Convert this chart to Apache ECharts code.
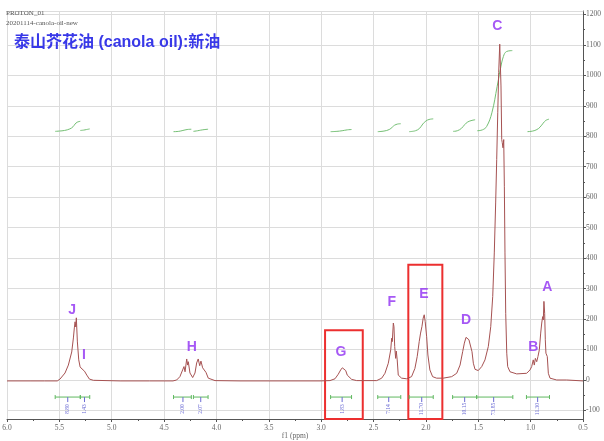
<!DOCTYPE html>
<html>
<head>
<meta charset="utf-8">
<script src="https://cdn.jsdelivr.net/npm/echarts@6/dist/echarts.min.js"></script>
<style>
html, body { margin: 0; padding: 0; background: #fff; }
#chart { width: 604px; height: 441px; }
</style>
</head>
<body>
<div id="chart"></div>
<script>
// 1H NMR spectrum of canola oil: chemical shift (ppm) and intensity
const shiftPpm = [
  6.00, 5.78, 5.64, 5.52, 5.494, 5.446, 5.414, 5.382, 5.366, 5.357, 5.350, 5.343, 5.338, 5.328, 5.315, 5.302,
  5.283, 5.275, 5.268, 5.260, 5.254, 5.246, 5.238, 5.213, 5.175, 4.92, 4.64, 4.415,
  4.380, 4.349, 4.323, 4.316, 4.310, 4.300, 4.284, 4.275, 4.269, 4.253, 4.227, 4.205, 4.189, 4.174, 4.160,
  4.148, 4.132, 4.117, 4.100, 4.078, 4.014, 3.775, 3.393, 3.011, 2.916,
  2.868, 2.837, 2.814, 2.798, 2.782, 2.766, 2.751, 2.734, 2.709, 2.661, 2.470,
  2.422, 2.391, 2.359, 2.336, 2.327, 2.321, 2.311, 2.305, 2.298, 2.289, 2.283, 2.274, 2.264, 2.232, 2.184,
  2.137, 2.105, 2.083, 2.064, 2.051, 2.038, 2.026, 2.016, 2.007, 1.993, 1.981, 1.962, 1.936, 1.898, 1.835,
  1.754, 1.706, 1.674, 1.649, 1.633, 1.617, 1.605, 1.589, 1.572, 1.560, 1.547, 1.531, 1.500,
  1.467, 1.436, 1.404, 1.381, 1.362, 1.347, 1.334, 1.324, 1.314, 1.305, 1.295, 1.290, 1.283, 1.276, 1.271,
  1.264, 1.257, 1.251, 1.245, 1.238, 1.228, 1.219, 1.197, 1.133, 1.038,
  1.006, 0.990, 0.975, 0.965, 0.955, 0.942, 0.930, 0.917, 0.904, 0.894, 0.885, 0.879, 0.873, 0.866, 0.860,
  0.854, 0.847, 0.841, 0.831, 0.815, 0.751, 0.656, 0.500
];
const intensity = [
  -3, -3, -3, -3, 3, 23, 49, 92, 138, 171, 191, 174, 204, 125, 66, 43,
  36, 33, 35, 29, 28, 24, 16, 3, -1, -3, -3, -3,
  0, 11, 33, 28, 44, 27, 69, 49, 60, 23, 8, 23, 56, 69, 47,
  62, 40, 44, 25, 6, -2, -3, -3, -3, -2,
  4, 19, 33, 40, 35, 31, 16, 13, 2, -2, -2,
  6, 22, 55, 99, 137, 126, 187, 175, 110, 71, 95, 66, 16, 6, 4,
  11, 38, 77, 126, 154, 175, 203, 214, 192, 142, 82, 33, 11, 6, 6,
  11, 22, 49, 93, 121, 140, 145, 132, 126, 93, 55, 35, 31,
  44, 66, 110, 175, 274, 417, 581, 724, 877, 1009, 1102, 1108, 965, 789, 779,
  762, 789, 636, 417, 219, 88, 44, 27, 20, 22,
  33, 44, 66, 49, 71, 60, 77, 99, 154, 187, 208, 197, 258, 219, 132,
  88, 82, 77, 22, 6, 0, 0, -3
];

// Peak assignments
const peakNames = ['J', 'I', 'H', 'G', 'F', 'E', 'D', 'C', 'B', 'A'];
const peakLabelPpm = [5.379, 5.265, 4.236, 2.811, 2.327, 2.018, 1.617, 1.318, 0.975, 0.841];
const peakLabelLevel = [230, 80, 107, 91, 254, 282, 195, 1160, 109, 306];

// Integration regions (ppm) and integral values
const integralFrom = [5.54, 5.30, 4.41, 4.22, 2.91, 2.46, 2.16, 1.745, 1.515, 1.04];
const integralTo = [5.30, 5.21, 4.24, 4.08, 2.71, 2.24, 1.93, 1.515, 1.17, 0.82];
const integralMark = [5.42, 5.26, 4.32, 4.15, 2.80, 2.355, 2.04, 1.63, 1.353, 0.933];
const integralValues = [8.80, 1.43, 2.00, 2.07, 1.83, 7.14, 11.70, 10.15, 73.85, 11.30];

// Running integral curves, one per region: [ppm, level]
const integralCurves = [
  [[5.54, 816], [5.50, 817], [5.45, 819], [5.40, 824], [5.37, 831], [5.35, 840], [5.33, 846], [5.30, 849]],
  [[5.30, 819], [5.27, 820], [5.24, 822], [5.21, 824]],
  [[4.41, 815], [4.36, 816], [4.32, 819], [4.28, 822], [4.24, 823]],
  [[4.22, 816], [4.18, 818], [4.15, 820], [4.11, 822], [4.08, 823]],
  [[2.91, 815], [2.85, 816], [2.80, 818], [2.75, 821], [2.71, 822]],
  [[2.46, 815], [2.40, 817], [2.35, 822], [2.32, 830], [2.30, 836], [2.27, 840], [2.24, 841]],
  [[2.16, 815], [2.10, 818], [2.06, 826], [2.03, 840], [2.00, 850], [1.97, 855], [1.93, 857]],
  [[1.74, 816], [1.70, 818], [1.66, 826], [1.63, 838], [1.60, 847], [1.56, 852], [1.53, 854]],
  [[1.51, 818], [1.46, 821], [1.42, 832], [1.37, 877], [1.32, 963], [1.29, 1018], [1.26, 1062], [1.23, 1078], [1.175, 1081]],
  [[1.03, 815], [0.98, 817], [0.94, 822], [0.91, 830], [0.88, 843], [0.855, 852], [0.825, 856]]
];

// Highlighted regions: [left ppm, right ppm, top level]
const boxLeft = [2.963, 2.168];
const boxRight = [2.603, 1.843];
const boxTop = [163, 378];

// Intensity axis ticks
const yTickValues = [-100, 0, 100, 200, 300, 400, 500, 600, 700, 800, 900, 1000, 1100, 1200];
const yMinorValues = [-50, 50, 150, 250, 350, 450, 550, 650, 750, 850, 950, 1050, 1150];

const Y_MIN = -128;
const Y_MAX = 1211;
const BAR_LEVEL = -56;

const axisFont = { fontFamily: 'Liberation Serif', fontSize: 7.5, color: '#666' };
const gridColor = '#dcdcdc';
const axisColor = '#555';

const chart = echarts.init(document.getElementById('chart'), null, { renderer: 'canvas' });

const spectrumData = shiftPpm.map((p, i) => [p, intensity[i]]);

const integralSeries = integralCurves.map(curve => ({
  type: 'line',
  data: curve,
  showSymbol: false,
  smooth: 0.4,
  silent: true,
  lineStyle: { color: '#74bf74', width: 1 },
  z: 2
}));

const option = {
  animation: false,
  backgroundColor: '#fff',
  title: [
    { text: 'PROTON_01', left: 6, top: 10, padding: 0,
      textStyle: { fontFamily: 'Liberation Serif', fontSize: 7, fontWeight: 'normal', color: '#555' } },
    { text: '20201114-canola-oil-new', left: 6, top: 20, padding: 0,
      textStyle: { fontFamily: 'Liberation Serif', fontSize: 7, fontWeight: 'normal', color: '#555' } },
    { text: '泰山芥花油 (canola oil):新油', left: 14, top: 35, padding: 0,
      textStyle: { fontFamily: 'Liberation Sans, Noto Sans CJK SC', fontSize: 16, fontWeight: 'bold', color: '#3838e8' } }
  ],
  grid: { left: 7, right: 21, top: 11, bottom: 22, containLabel: false, outerBoundsMode: 'none' },
  xAxis: [
    {
      type: 'value', inverse: true, min: 0.5, max: 6.0, interval: 0.5, position: 'bottom',
      name: 'f1 (ppm)', nameLocation: 'middle', nameGap: 13, nameMoveOverlap: false,
      nameTextStyle: { fontFamily: 'Liberation Serif', fontSize: 7.5, color: '#666' },
      axisLine: { onZero: false, lineStyle: { color: axisColor, width: 1 } },
      axisTick: { show: true, length: 3, lineStyle: { color: axisColor } },
      minorTick: { show: true, splitNumber: 2, length: 2, lineStyle: { color: axisColor } },
      axisLabel: Object.assign({ margin: 5, formatter: v => v.toFixed(1) }, axisFont),
      splitLine: { show: true, lineStyle: { color: gridColor, width: 1 } }
    },
    {
      type: 'value', inverse: true, min: 0.5, max: 6.0, position: 'top',
      axisLine: { onZero: false, lineStyle: { color: gridColor, width: 1 } },
      axisTick: { show: false }, axisLabel: { show: false }, splitLine: { show: false }
    }
  ],
  yAxis: [
    {
      type: 'value', position: 'right', min: Y_MIN, max: Y_MAX,
      axisLine: { show: true, onZero: false, lineStyle: { color: axisColor, width: 1 } },
      axisTick: { show: true, length: 3, customValues: yTickValues, lineStyle: { color: axisColor } },
      axisLabel: Object.assign({ margin: 3, customValues: yTickValues, formatter: v => String(v) }, axisFont),
      splitLine: { show: true, lineStyle: { color: gridColor, width: 1 } }
    },
    {
      type: 'value', position: 'right', min: Y_MIN, max: Y_MAX,
      axisLine: { show: false },
      axisTick: { show: true, length: 2, customValues: yMinorValues, lineStyle: { color: axisColor } },
      axisLabel: { show: false },
      splitLine: { show: false }
    }
  ],
  series: [
    {
      type: 'line',
      data: spectrumData,
      showSymbol: false,
      silent: true,
      lineStyle: { color: '#a65252', width: 1 },
      z: 3,
      markArea: {
        silent: true,
        itemStyle: { color: 'rgba(0,0,0,0)', borderColor: '#ec2f2f', borderWidth: 2 },
        data: boxLeft.map((l, i) => [
          { xAxis: l, yAxis: boxTop[i] },
          { xAxis: boxRight[i], yAxis: Y_MIN }
        ])
      }
    },
    ...integralSeries,
    {
      type: 'custom',
      silent: true,
      clip: false,
      z: 4,
      data: integralFrom.map((f, i) => [f, integralTo[i], integralMark[i], integralValues[i]]),
      renderItem: (params, api) => {
        const a = api.coord([api.value(0), BAR_LEVEL]);
        const b = api.coord([api.value(1), BAR_LEVEL]);
        const m = api.coord([api.value(2), BAR_LEVEL]);
        const green = { stroke: '#5fb85f', lineWidth: 1 };
        const blue = { stroke: '#6a6ad4', lineWidth: 1 };
        return {
          type: 'group',
          children: [
            { type: 'line', shape: { x1: a[0], y1: a[1], x2: b[0], y2: b[1] }, style: green },
            { type: 'line', shape: { x1: a[0], y1: a[1] - 2, x2: a[0], y2: a[1] + 2 }, style: green },
            { type: 'line', shape: { x1: b[0], y1: b[1] - 2, x2: b[0], y2: b[1] + 2 }, style: green },
            { type: 'line', shape: { x1: m[0], y1: m[1], x2: m[0], y2: m[1] + 5 }, style: blue },
            {
              type: 'text',
              x: m[0], y: m[1] + 12, rotation: Math.PI / 2,
              style: {
                text: api.value(3).toFixed(2),
                fontFamily: 'Liberation Serif', fontSize: 5.5, fill: '#6a6ad4',
                align: 'center', verticalAlign: 'middle'
              }
            }
          ]
        };
      }
    },
    {
      type: 'scatter',
      silent: true,
      symbolSize: 1,
      itemStyle: { color: 'rgba(0,0,0,0)' },
      z: 5,
      data: peakNames.map((n, i) => ({ value: [peakLabelPpm[i], peakLabelLevel[i]], name: n })),
      label: {
        show: true, position: 'inside', formatter: p => p.name,
        fontFamily: 'Liberation Sans', fontSize: 14, fontWeight: 'bold', color: '#9030f2'
      }
    }
  ]
};

chart.setOption(option);
</script>
</body>
</html>
